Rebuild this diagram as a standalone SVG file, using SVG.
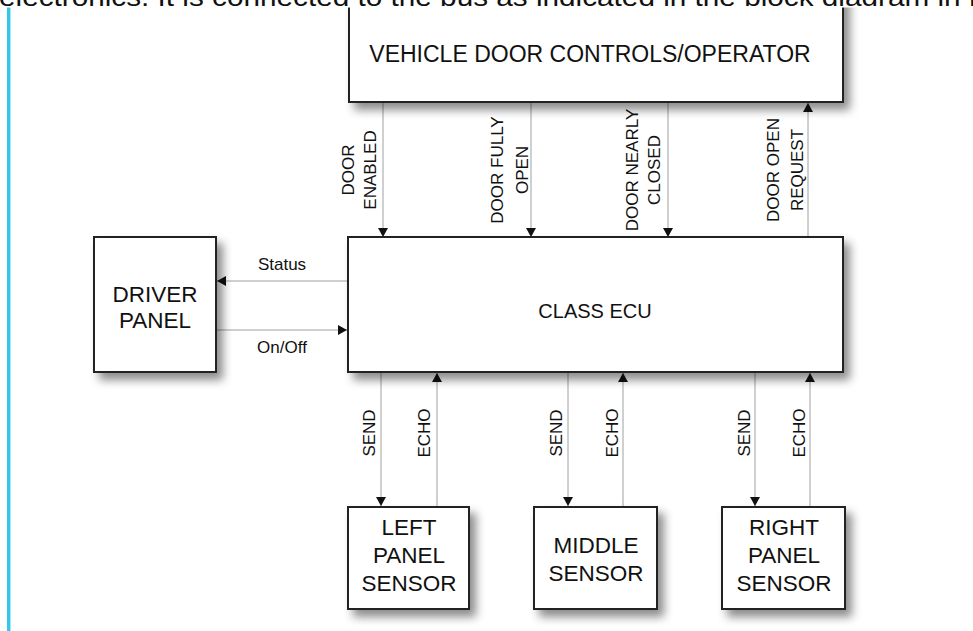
<svg xmlns="http://www.w3.org/2000/svg" width="973" height="631" viewBox="0 0 973 631">
<style>
.box{fill:#fff;stroke:#222;stroke-width:2;filter:url(#sh)}
.t{font-family:"Liberation Sans",Arial,sans-serif;fill:#111;text-anchor:middle}
.big{font-size:22.5px}
.mid{font-size:17px}
.con{stroke:#a0a0a0;stroke-width:1;fill:none;marker-end:url(#ah)}
</style>
<defs>
<filter id="sh" x="-20%" y="-20%" width="150%" height="150%">
<feDropShadow dx="6" dy="7" stdDeviation="5" flood-color="#000" flood-opacity="0.45"/>
</filter>
<marker id="ah" markerUnits="userSpaceOnUse" markerWidth="12" markerHeight="10" refX="9" refY="5" orient="auto">
<path d="M0,0 L9,5 L0,10 Z" fill="#111"/>
</marker>
<clipPath id="topclip"><rect x="0" y="0" width="973" height="6"/></clipPath>
</defs>
<rect width="973" height="631" fill="#fff"/>
<rect x="7" y="0" width="3" height="631" fill="#33c8ea"/>
<rect x="10" y="0" width="1" height="631" fill="#a8e6f4"/>

<g id="connectors">
<line class="con" x1="383" y1="103" x2="383" y2="237"/>
<line class="con" x1="531" y1="103" x2="531" y2="237"/>
<line class="con" x1="668" y1="103" x2="668" y2="237"/>
<line class="con" x1="808" y1="236" x2="808" y2="103"/>
<line class="con" x1="347" y1="281" x2="217" y2="281"/>
<line class="con" x1="217" y1="330" x2="347" y2="330"/>
<line class="con" x1="381" y1="373" x2="381" y2="506"/>
<line class="con" x1="437" y1="506" x2="437" y2="373"/>
<line class="con" x1="568" y1="373" x2="568" y2="506"/>
<line class="con" x1="623" y1="506" x2="623" y2="373"/>
<line class="con" x1="755" y1="373" x2="755" y2="506"/>
<line class="con" x1="810" y1="506" x2="810" y2="373"/>
<text class="t mid" x="282" y="270">Status</text>
<text class="t mid" x="282" y="353">On/Off</text>
<g class="t mid">
<text transform="translate(354,170) rotate(-90)">DOOR</text>
<text transform="translate(376,170) rotate(-90)">ENABLED</text>
<text transform="translate(503,170) rotate(-90)">DOOR FULLY</text>
<text transform="translate(528,170) rotate(-90)">OPEN</text>
<text transform="translate(638,170) rotate(-90)">DOOR NEARLY</text>
<text transform="translate(660,170) rotate(-90)">CLOSED</text>
<text transform="translate(779,170) rotate(-90)">DOOR OPEN</text>
<text transform="translate(803,170) rotate(-90)">REQUEST</text>
<text transform="translate(375,433) rotate(-90)">SEND</text>
<text transform="translate(430,433) rotate(-90)">ECHO</text>
<text transform="translate(562,433) rotate(-90)">SEND</text>
<text transform="translate(618,433) rotate(-90)">ECHO</text>
<text transform="translate(750,433) rotate(-90)">SEND</text>
<text transform="translate(805,433) rotate(-90)">ECHO</text>
</g>
</g>

<g id="vehicle-door-controls">
<rect class="box" x="349" y="-30" width="494" height="132"/>
<text class="t big" x="590" y="62" style="font-size:23px">VEHICLE DOOR CONTROLS/OPERATOR</text>
</g>
<g id="class-ecu">
<rect class="box" x="348" y="237" width="495" height="135"/>
<text class="t" x="595" y="318" style="font-size:20px">CLASS ECU</text>
</g>
<g id="driver-panel">
<rect class="box" x="94" y="237" width="122" height="135"/>
<text class="t big" x="155" y="302">DRIVER</text>
<text class="t big" x="155" y="328">PANEL</text>
</g>
<g id="left-panel-sensor">
<rect class="box" x="348" y="507" width="121" height="102"/>
<text class="t big" x="409" y="535">LEFT</text>
<text class="t big" x="409" y="563">PANEL</text>
<text class="t big" x="409" y="591">SENSOR</text>
</g>
<g id="middle-sensor">
<rect class="box" x="534" y="507" width="123" height="102"/>
<text class="t big" x="596" y="553">MIDDLE</text>
<text class="t big" x="596" y="581">SENSOR</text>
</g>
<g id="right-panel-sensor">
<rect class="box" x="722" y="507" width="123" height="102"/>
<text class="t big" x="784" y="535">RIGHT</text>
<text class="t big" x="784" y="563">PANEL</text>
<text class="t big" x="784" y="591">SENSOR</text>
</g>

<rect x="0" y="0" width="973" height="7.5" fill="#fff"/>
<g clip-path="url(#topclip)">
<text x="-1" y="6" style="font-family:'Liberation Sans',Arial,sans-serif;font-size:25px;fill:#111" textLength="988" lengthAdjust="spacingAndGlyphs">electronics. It is connected to the bus as indicated in the block diagram in F</text>
</g>
</svg>
